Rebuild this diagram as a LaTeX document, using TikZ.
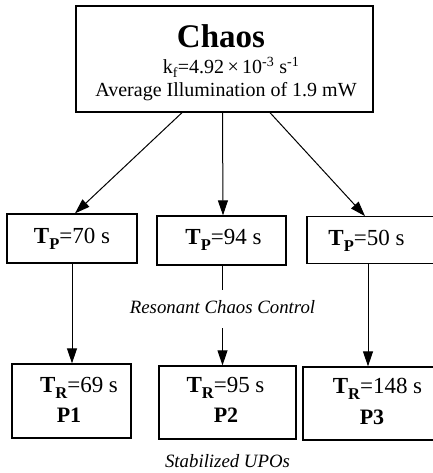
\documentclass[tikz,border=0pt]{standalone}
\usepackage{fontspec}
\setmainfont{Liberation Serif}
\usetikzlibrary{arrows.meta}

% lowered bold index, as in T_P and T_R
\newcommand{\lowidx}[1]{\raisebox{-6pt}{\fontsize{16.5}{16.5}\selectfont\bfseries #1}}

\tikzset{
  frame/.style={draw, line width=1.3pt, inner sep=0pt},
  arr/.style={line width=1pt, -{Triangle[length=15pt,width=10pt]}},
  plain/.style={line width=1pt},
  boxtext/.style={anchor=base, inner sep=0pt, font=\fontsize{23}{23}\selectfont},
  orbit/.style={anchor=base, inner sep=0pt, font=\fontsize{22}{22}\selectfont\bfseries},
  note/.style={anchor=base, inner sep=0pt, font=\fontsize{18.8}{18.8}\selectfont\itshape}
}

\begin{document}
\begin{tikzpicture}[x=1pt,y=-1pt]
  \useasboundingbox (0,0) rectangle (432,473);
  % free-running state
  \node[frame, minimum width=297pt, minimum height=106pt] (chaos) at (224.5,59) {};
  \node[anchor=base, inner sep=0pt, font=\fontsize{33}{33}\selectfont\bfseries] (title) at (221,48) {Chaos};
  \node[anchor=base, inner sep=0pt, font=\fontsize{20}{20}\selectfont] (rate) at (231,74)
    {k\textsubscript{f}=4.92\,×\,10\textsuperscript{-3} s\textsuperscript{-1}};
  \node[anchor=base, inner sep=0pt, font=\fontsize{20}{20}\selectfont] (illum) at (226,97)
    {Average Illumination of 1.9 mW};
  % perturbation periods
  \node[frame, minimum width=130pt, minimum height=49pt] (tp1) at (72,238.5) {};
  \node[boxtext] (tp1txt) at (72,243) {\textbf{T}\lowidx{P}=70 s};
  \node[frame, minimum width=129pt, minimum height=49pt] (tp2) at (221.5,240.5) {};
  \node[boxtext] (tp2txt) at (223.5,244) {\textbf{T}\lowidx{P}=94 s};
  \node[frame, minimum width=135pt, minimum height=46.5pt] (tp3) at (374.5,240) {};
  \node[boxtext] (tp3txt) at (366.5,245) {\textbf{T}\lowidx{P}=50 s};
  % stabilized orbits
  \node[frame, minimum width=119pt, minimum height=74pt] (tr1) at (71.5,401) {};
  \node[boxtext] (tr1txt) at (79,392) {\textbf{T}\lowidx{R}=69 s};
  \node[orbit] (p1) at (69,422.5) {P1};
  \node[frame, minimum width=137pt, minimum height=73pt] (tr2) at (227.5,402.5) {};
  \node[boxtext] (tr2txt) at (225.5,392) {\textbf{T}\lowidx{R}=95 s};
  \node[orbit] (p2) at (226,422.5) {P2};
  \node[frame, minimum width=144pt, minimum height=73pt] (tr3) at (375,403.5) {};
  \node[boxtext] (tr3txt) at (377.5,393.5) {\textbf{T}\lowidx{R}=148 s};
  \node[orbit] (p3) at (372,424) {P3};
  % captions
  \node[note] (rcc) at (222.5,313) {Resonant Chaos Control};
  \node[note] (upos) at (227.5,467) {Stabilized UPOs};
  % connectors
  \draw[arr] ([xshift=-42.5pt]chaos.south) -- ([xshift=3pt]tp1.north);
  \draw[arr] ([xshift=-2pt]chaos.south) -- ([xshift=1.5pt]tp2.north);
  \draw[arr] ([xshift=45.5pt]chaos.south) -- ([xshift=-9.5pt]tp3.north);
  \draw[arr] (tp1.south) -- (tp1.south |- tr1.north);
  \draw[plain] (tp2.south -| rcc) -- ([yshift=10pt]rcc.north);
  \draw[arr] ([yshift=-15pt]rcc.south) -- (rcc.south |- tr2.north);
  \draw[arr] ([xshift=-6.5pt]tp3.south) -- ([xshift=-6.5pt]tp3.south |- tr3.north);
\end{tikzpicture}
\end{document}
